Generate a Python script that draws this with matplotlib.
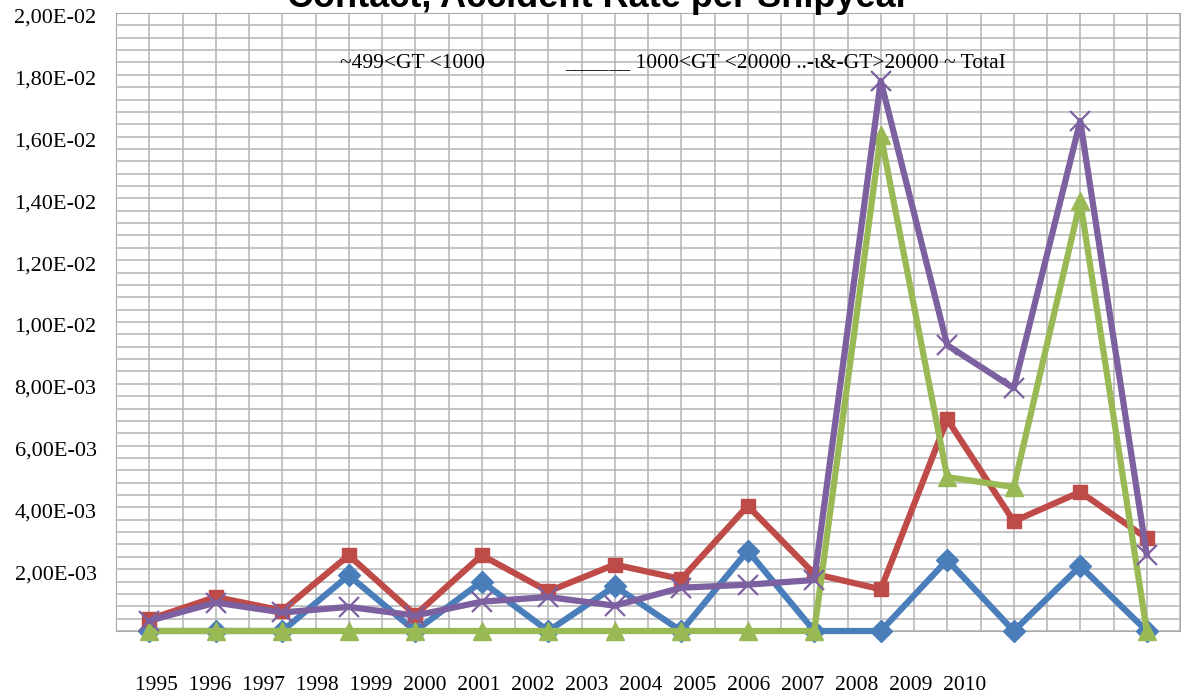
import matplotlib
matplotlib.use("Agg")
import matplotlib.pyplot as plt
import matplotlib.transforms as mtransforms
import numpy as np

# rates per shipyear (units of 1e-3)
years = [1995, 1996, 1997, 1998, 1999, 2000, 2001, 2002,
         2003, 2004, 2005, 2006, 2007, 2008, 2009, 2010]
gt_499_1000 = [0, 0, 0, 1.8, 0, 1.6, 0, 1.45,
               0, 2.6, 0, 0, 2.3, 0, 2.1, 0]
gt_1000_20000 = [0.38, 1.1, 0.66, 2.45, 0.52, 2.45, 1.28, 2.15,
                 1.68, 4.05, 1.85, 1.35, 6.85, 3.55, 4.5, 3.0]
gt_20000 = [0, 0, 0, 0, 0, 0, 0, 0,
            0, 0, 0, 16.05, 4.98, 4.66, 13.9, 0]
total = [0.33, 0.92, 0.6, 0.78, 0.5, 0.95, 1.1, 0.82,
         1.4, 1.5, 1.65, 17.8, 9.25, 7.86, 16.5, 2.46]

W, H = 1181, 698
serif = ["Liberation Serif", "DejaVu Serif"]

fig = plt.figure(figsize=(W / 100, H / 100), dpi=100)
ax = fig.add_axes([116 / W, 1 - 631 / H, (1180 - 116) / W, (631 - 13) / H])

x = np.arange(len(years))
series = [
    (gt_499_1000, "#4a7ebb", "D", 11.5),
    (gt_1000_20000, "#be4b48", "s", 10.5),
    (gt_20000, "#98b954", "^", 12.5),
]
for vals, color, marker, ms in series:
    ax.plot(x, np.array(vals) * 1e-3, color=color, lw=4.5, marker=marker,
            ms=ms, mec=color, mfc=color, clip_on=False, zorder=3)
ax.plot(x, np.array(total) * 1e-3, color="#7d60a0", lw=4.5, marker="x",
        ms=14, mew=1.6, clip_on=False, zorder=4)

ax.set_xlim(-0.5, len(years) - 0.5)
ax.set_ylim(0, 0.02)
ax.set_xticks(np.arange(-0.5, len(years), 0.5))
ax.set_xticklabels([])
major = np.arange(0, 0.0201, 0.002)
ax.set_yticks(major)
ax.set_yticklabels([""] + [f"{v:.2E}".replace(".", ",") for v in major[1:]],
                   fontfamily=serif, fontsize=16)
ax.set_yticks(np.arange(0, 0.0201, 0.0004), minor=True)
ax.tick_params(axis="both", which="both", length=0, pad=14)
shift = mtransforms.ScaledTranslation(0, -3 / 100, fig.dpi_scale_trans)
for lab in ax.get_yticklabels():
    lab.set_transform(lab.get_transform() + shift)
ax.grid(True, which="both", color="#b4b4b4", lw=1.1)
ax.set_axisbelow(True)
for s in ax.spines.values():
    s.set_color("#a8a8a8")

fig.text(598 / W, 1 - 7 / H, "Contact, Accident Rate per Shipyear",
         ha="center", va="baseline", fontsize=26, fontweight="bold",
         fontfamily=["Liberation Sans", "DejaVu Sans"])

fig.text(340 / W, 1 - 63 / H, "~499<GT <1000", ha="left", va="center",
         fontsize=15.5, fontfamily=serif)
fig.text(565 / W, 1 - 63 / H, "______ 1000<GT <20000 ..-ι&-GT>20000 ~ TotaI",
         ha="left", va="center", fontsize=15.5, fontfamily=serif)

fig.text(135 / W, 1 - 685 / H, "  ".join(str(y) for y in years),
         ha="left", va="center", fontsize=15.5, fontfamily=serif)

fig.savefig("out.png", dpi=100)
